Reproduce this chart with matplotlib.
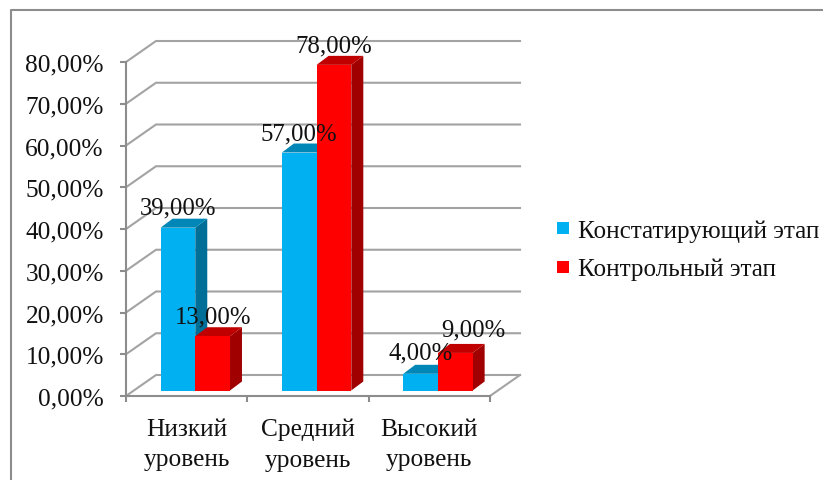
"""Grouped pseudo-3D bar chart of level shares at two stages."""
import matplotlib
matplotlib.use("Agg")
import matplotlib.pyplot as plt
from matplotlib.lines import Line2D

categories = ["Низкий\nуровень", "Средний\nуровень", "Высокий\nуровень"]
series_names = ["Констатирующий этап", "Контрольный этап"]
first_stage = [39, 57, 4]
second_stage = [13, 78, 9]
y_ticks = [0, 10, 20, 30, 40, 50, 60, 70, 80]

W, H = 823, 481
# plot box in pixels
LEFT, RIGHT, TOP, BOTTOM = 126, 490, 63, 397

GRID = "#a3a3a3"
AXIS = "#8c8c8c"
TEXT = "#111111"
# front, top, side shades per series
SHADES = [("#00b0f0", "#0086b7", "#006f98"), ("#ff0000", "#c00000", "#a00000")]

plt.rcParams["font.family"] = ["Liberation Serif", "DejaVu Serif"]

fig = plt.figure(figsize=(W / 100, H / 100), dpi=100)
ax = fig.add_axes([LEFT / W, 1 - BOTTOM / H, (RIGHT - LEFT) / W, (BOTTOM - TOP) / H])
ax.set_xlim(0, 3)
ax.set_ylim(0, 80)
ax.patch.set_visible(False)

px_x = 3 / (RIGHT - LEFT)
px_y = 80 / (BOTTOM - TOP)

# box depth, bar inset from the front edge, bar depth, bar width
wall_dx, wall_dy = 30 * px_x, 21 * px_y
base_dx, base_dy = 8.6 * px_x, 5.5 * px_y
bar_dx, bar_dy = 12 * px_x, 9 * px_y
bar_w = 34.7 * px_x

# back wall gridlines and the diagonals joining them to the axis
for t in y_ticks:
    ax.plot([0, wall_dx, 3 + wall_dx], [t, t + wall_dy, t + wall_dy],
            color=GRID, lw=1.5, clip_on=False, zorder=1, solid_joinstyle="miter")
ax.plot([3, 3 + wall_dx], [0, wall_dy], color=GRID, lw=1.5, clip_on=False, zorder=1)


def draw_bar(x, value, shades, z):
    y0 = base_dy
    y1 = base_dy + value
    ax.bar(x, value, width=bar_w, bottom=y0, align="edge", color=shades[0],
           lw=0, clip_on=False, zorder=z + 0.2)
    ax.fill([x, x + bar_w, x + bar_w + bar_dx, x + bar_dx],
            [y1, y1, y1 + bar_dy, y1 + bar_dy],
            color=shades[1], lw=0, clip_on=False, zorder=z + 0.1)
    ax.fill([x + bar_w, x + bar_w + bar_dx, x + bar_w + bar_dx, x + bar_w],
            [y0, y0 + bar_dy, y1 + bar_dy, y1],
            color=shades[2], lw=0, clip_on=False, zorder=z)


label_shift = [[0, 0, 0], [0, 0, 18]]  # px, keeps the last label off its neighbour
label_lift = [[20, 19, 21], [20, 19, 23]]

for i in range(len(categories)):
    x0 = i + 0.5 + base_dx - bar_w
    for s, vals in enumerate([first_stage, second_stage]):
        x = x0 + s * bar_w
        draw_bar(x, vals[i], SHADES[s], 3 + s)
        ax.text(x + bar_w / 2 + label_shift[s][i] * px_x,
                base_dy + vals[i] + label_lift[s][i] * px_y,
                f"{vals[i]:.2f}%".replace(".", ","),
                ha="center", va="center", fontsize=17.8, color=TEXT,
                clip_on=False, zorder=10)

for side in ("top", "right"):
    ax.spines[side].set_visible(False)
for side in ("left", "bottom"):
    ax.spines[side].set_color(AXIS)
    ax.spines[side].set_linewidth(1.5)
    ax.spines[side].set_zorder(2)

ax.set_yticks(y_ticks)
ax.set_yticklabels([f"{t:.2f}%".replace(".", ",") for t in y_ticks])
ax.set_xticks([0, 1, 2, 3])
ax.set_xticklabels([])
ax.tick_params(axis="both", color=AXIS, width=1.5, length=4)
ax.tick_params(axis="y", labelsize=18.3, labelcolor=TEXT, pad=12)

for i, name in enumerate(categories):
    ax.text(i + 0.5, -5.2, name, ha="center", va="top", fontsize=18.3,
            color=TEXT, linespacing=1.5, clip_on=False)

handles = [Line2D([], [], ls="", marker="s", ms=8.6, mew=0, color=SHADES[s][0])
           for s in range(2)]
fig.legend(handles, series_names, loc="center left",
           bbox_to_anchor=(557 / W, 1 - 251 / H), frameon=False, fontsize=18.1,
           borderpad=0, borderaxespad=0, handlelength=0.5, handletextpad=0.35,
           labelspacing=0.62, labelcolor=TEXT)

# chart frame, open at the right and bottom edges
fig.add_artist(Line2D([11 / W, 11 / W, 1], [0, 1 - 11 / H, 1 - 11 / H],
                      color=AXIS, lw=1.5, transform=fig.transFigure))

fig.savefig("out.png", dpi=100)
